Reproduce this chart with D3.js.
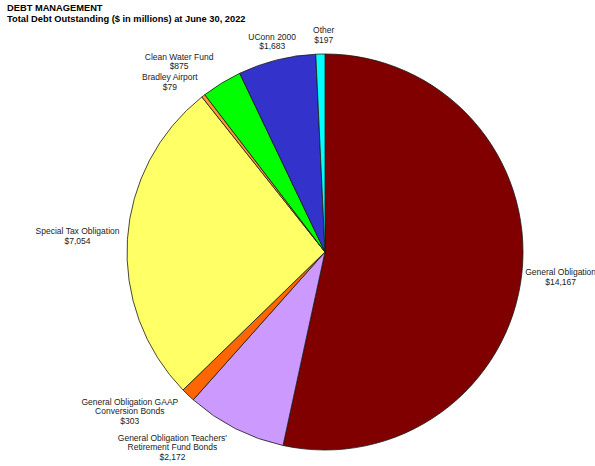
<!DOCTYPE html>
<html>
<head>
<meta charset="utf-8">
<script src="https://cdn.jsdelivr.net/npm/d3@7"></script>
<style>
  body { margin: 0; background: #fff; }
  svg { font-family: "Liberation Sans", Arial, sans-serif; }
  .title { font-weight: bold; font-size: 9.3px; fill: #000; }
  .lbl { font-size: 8.5px; fill: #222; }
</style>
</head>
<body>
<div id="chart"></div>
<script>
// categories in drawing order, clockwise from 12 o'clock
const categories = [
    ["General Obligation"],
    ["General Obligation Teachers'", "Retirement Fund Bonds"],
    ["General Obligation GAAP", "Conversion Bonds"],
    ["Special Tax Obligation"],
    ["Bradley Airport"],
    ["Clean Water Fund"],
    ["UConn 2000"],
    ["Other"]
];
const values = [14167, 2172, 303, 7054, 79, 875, 1683, 197];
const valueLabels = ["$14,167", "$2,172", "$303", "$7,054", "$79", "$875", "$1,683", "$197"];
const colors = ["#800000", "#cc99ff", "#ff6600", "#ffff66", "#ff9933", "#00ff00", "#3333cc", "#00ffff"];

// label placement: [angle shift in degrees, distance from centre]
const labelPlace = [[0, 237], [11, 248], [7, 252], [0, 248], [-4.5, 230], [-6, 240], [0, 217], [1, 217]];

const width = 595, height = 466;
const cx = 325, cy = 252, radius = 198;

const svg = d3.select("#chart").append("svg")
    .attr("width", width)
    .attr("height", height);

svg.append("text").attr("class", "title").attr("x", 7).attr("y", 11).text("DEBT MANAGEMENT");
svg.append("text").attr("class", "title").attr("x", 7).attr("y", 22)
    .text("Total Debt Outstanding ($ in millions) at June 30, 2022");

const pie = d3.pie().sort(null).value(d => d);
const arcs = pie(values);
const arc = d3.arc().innerRadius(0).outerRadius(radius);

const g = svg.append("g").attr("transform", "translate(" + cx + "," + cy + ")");

g.selectAll("path.slice")
    .data(arcs)
    .enter().append("path")
    .attr("class", "slice")
    .attr("d", arc)
    .attr("fill", (d, i) => colors[i])
    .attr("stroke", "#1a1a1a")
    .attr("stroke-width", 0.8);

const lineH = 9.6;
arcs.forEach(function (d, i) {
    const a = (d.startAngle + d.endAngle) / 2 + labelPlace[i][0] * Math.PI / 180;
    const r = labelPlace[i][1];
    const x = r * Math.sin(a), y = -r * Math.cos(a);
    const lines = categories[i].concat([valueLabels[i]]);
    const y0 = y - (lines.length - 1) * lineH / 2 + 3;
    const t = g.append("text").attr("class", "lbl").attr("text-anchor", "middle");
    lines.forEach(function (s, k) {
        t.append("tspan").attr("x", x).attr("y", y0 + k * lineH).text(s);
    });
});
</script>
</body>
</html>
